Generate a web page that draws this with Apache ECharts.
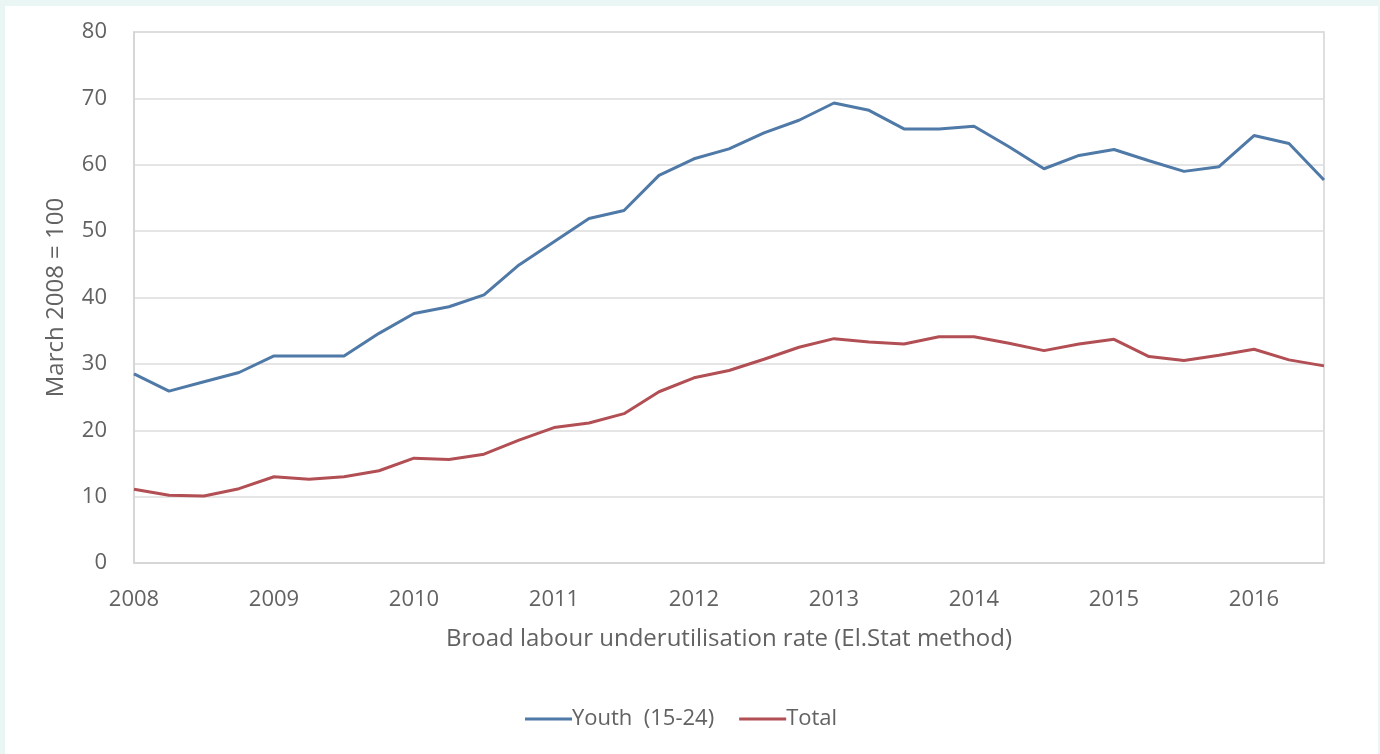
<!DOCTYPE html>
<html>
<head>
<meta charset="utf-8">
<script src="https://cdn.jsdelivr.net/npm/echarts@6/dist/echarts.min.js"></script>
<style>
html,body{margin:0;padding:0;background:#eaf6f3;width:1380px;height:754px;overflow:hidden;}
#frame{position:absolute;left:5px;top:6px;width:1373px;height:748px;background:#ffffff;}
#chart{position:absolute;left:0;top:0;width:1380px;height:754px;}
</style>
</head>
<body>
<div id="frame"></div>
<div id="chart"></div>
<script>
const categories = [];
const years = [2008,2009,2010,2011,2012,2013,2014,2015,2016];
years.forEach(y => { for (let q = 1; q <= 4; q++) categories.push(y + ' Q' + q); });
categories.length = 35;

const youth = [28.5,25.9,27.3,28.7,31.2,31.2,31.2,34.6,37.6,38.6,40.4,44.9,48.4,51.9,53.1,58.4,60.9,62.4,64.8,66.7,69.3,68.2,65.4,65.4,65.8,62.7,59.4,61.4,62.3,60.6,59.0,59.7,64.4,63.2,57.7];
const total = [11.1,10.2,10.1,11.2,13.0,12.6,13.0,13.9,15.8,15.6,16.4,18.5,20.4,21.1,22.5,25.8,27.9,29.0,30.7,32.5,33.8,33.3,33.0,34.1,34.1,33.1,32.0,33.0,33.7,31.1,30.5,31.3,32.2,30.6,29.7];
const yTicks = [0,10,20,30,40,50,60,70,80];

const font = '"Open Sans", Lato, sans-serif';
const txt = '#626262';
const chart = echarts.init(document.getElementById('chart'));
chart.setOption({
  backgroundColor: 'transparent',
  animation: false,
  textStyle: { fontFamily: font, color: txt },
  grid: { left: 134, right: 56, top: 32, bottom: 191, show: true, borderColor: '#d3d3d3', borderWidth: 1.5, backgroundColor: 'transparent' },
  legend: {
    top: 703, left: 520, itemWidth: 47, itemHeight: 3, itemGap: 25,
    icon: 'rect',
    textStyle: { fontFamily: font, fontSize: 22, color: txt, padding: [0,0,0,-5] },
    data: ['Youth  (15-24)', 'Total']
  },
  xAxis: {
    type: 'category', data: categories, boundaryGap: false,
    name: 'Broad labour underutilisation rate (El.Stat method)',
    nameLocation: 'middle', nameGap: 64,
    nameTextStyle: { fontFamily: font, fontSize: 24, color: txt },
    axisLine: { show: true, lineStyle: { color: '#d3d3d3', width: 1.5 } },
    axisTick: { show: false },
    axisLabel: {
      interval: 0, margin: 26, fontSize: 22, color: txt,
      formatter: (v, i) => (i % 4 === 0 ? v.slice(0, 4) : '')
    },
    splitLine: { show: false }
  },
  yAxis: {
    type: 'value', min: yTicks[0], max: yTicks[yTicks.length - 1], interval: 10,
    name: 'March 2008 = 100', nameLocation: 'middle', nameGap: 66, nameRotate: 90,
    nameTextStyle: { fontFamily: font, fontSize: 24, color: txt },
    axisLine: { show: true, lineStyle: { color: '#d3d3d3', width: 1.5 } },
    axisTick: { show: false },
    axisLabel: { margin: 27, fontSize: 22, color: txt },
    splitLine: { show: true, lineStyle: { color: '#dcdcdc', width: 1.5 } }
  },
  series: [
    { name: 'Youth  (15-24)', type: 'line', data: youth, symbol: 'none',
      lineStyle: { color: '#4f79a6', width: 3 }, itemStyle: { color: '#4f79a6' } },
    { name: 'Total', type: 'line', data: total, symbol: 'none',
      lineStyle: { color: '#b24f54', width: 3 }, itemStyle: { color: '#b24f54' } }
  ]
});
</script>
</body>
</html>
